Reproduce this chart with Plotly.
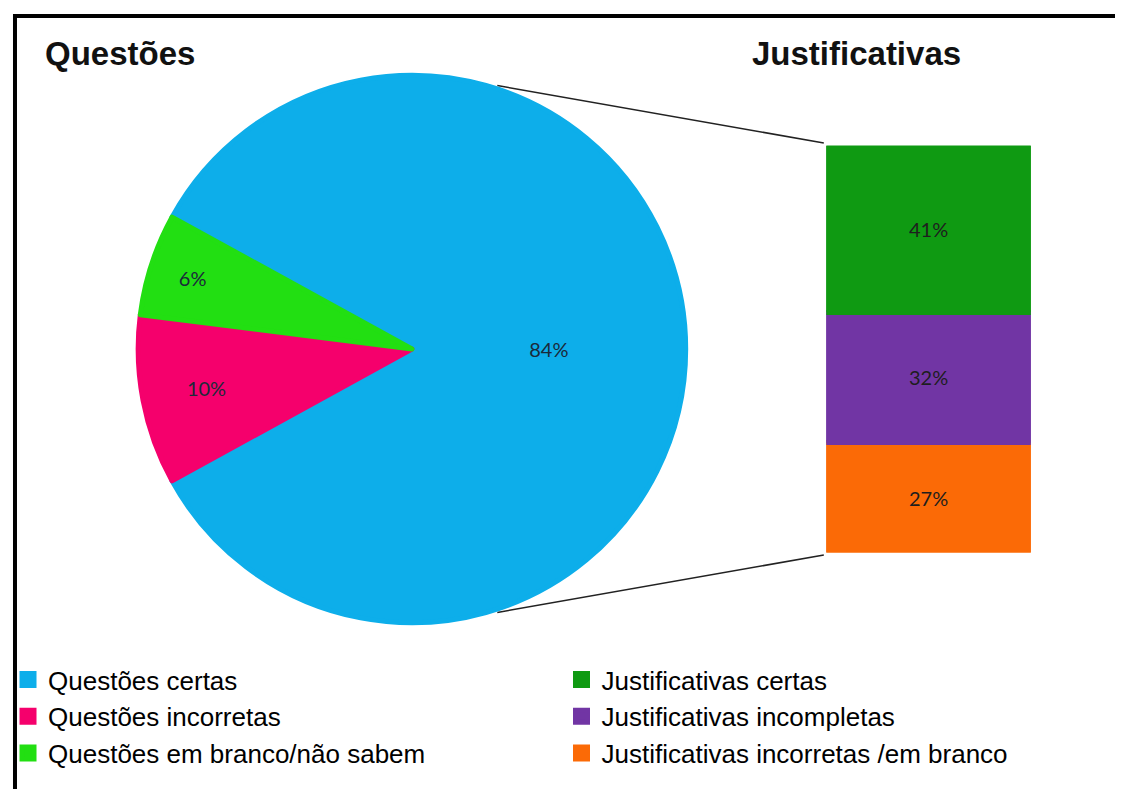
import math
import plotly.graph_objects as go

W, H = 1123, 789
OFF = 8  # page body margin in the browser

# ---- data ----
pie_labels = ["Questões certas", "Questões incorretas", "Questões em branco/não sabem"]
pie_values = [84, 10, 6]
pie_colors = ["#0DAEEA", "#F5006C", "#22DF12"]

bar_labels = ["Justificativas certas", "Justificativas incompletas", "Justificativas incorretas /em branco"]
bar_values = [41, 32, 27]
bar_colors = ["#0F9A12", "#7135A4", "#FB6A06"]

title_left = "Questões"
title_right = "Justificativas"

# ---- geometry (pixels in the screenshot) ----
pie_cx, pie_cy, pie_r = 410, 349, 277
bar_x0, bar_x1, bar_y0, bar_y1 = 823, 1033, 143, 555
LW = 5  # outline width (same colour as fill) -> larger legend swatches

def px(x):
    return (x - OFF) / W

def py(y):
    return 1 - (y - OFF) / H

others = sum(pie_values[1:]) / sum(pie_values) * 360
rotation = 270 + others / 2  # others centred on the left

fig = go.Figure()

r_in = pie_r - LW / 2
fig.add_trace(go.Pie(
    labels=pie_labels,
    values=pie_values,
    sort=False,
    direction="clockwise",
    rotation=rotation - 360,
    marker=dict(colors=pie_colors, line=dict(color=pie_colors, width=LW)),
    texttemplate="%{value}%",
    textposition="inside",
    insidetextorientation="horizontal",
    textfont=dict(family="Lato", size=20, color="#1B2A3A"),
    domain=dict(x=[px(pie_cx - r_in), px(pie_cx + r_in)],
                y=[py(pie_cy + r_in), py(pie_cy - r_in)]),
    legend="legend",
    hoverinfo="label+percent",
))

h = LW / 2
n = len(bar_labels)
for i in reversed(range(n)):
    fig.add_trace(go.Bar(
        x=[0], y=[bar_values[i]],
        name=bar_labels[i],
        marker=dict(color=bar_colors[i], line=dict(width=LW, color=bar_colors[i])),
        width=1,
        text=[f"{bar_values[i]}%"],
        textposition="inside",
        insidetextanchor="middle",
        textangle=0,
        textfont=dict(family="Lato", size=20, color="#1E1E1E"),
        xaxis="x2", yaxis="y2",
        legend="legend2",
        legendrank=i + 1,
    ))

leg_font = dict(family="Liberation Sans, Arial", size=26, color="#000")
fig.update_layout(
    width=W, height=H,
    margin=dict(l=0, r=0, t=0, b=0),
    paper_bgcolor="white",
    plot_bgcolor="rgba(0,0,0,0)",
    barmode="stack",
    xaxis2=dict(domain=[px(bar_x0 + h), px(bar_x1 - h)], range=[-0.5, 0.5], visible=False, fixedrange=True),
    yaxis2=dict(domain=[py(bar_y1 - h), py(bar_y0 + h)], range=[0, sum(bar_values)], visible=False, fixedrange=True),
    legend=dict(x=px(5), y=py(656), xanchor="left", yanchor="top",
                font=leg_font, bgcolor="rgba(0,0,0,0)", traceorder="normal"),
    legend2=dict(x=px(560), y=py(656), xanchor="left", yanchor="top",
                 font=leg_font, bgcolor="rgba(0,0,0,0)", traceorder="normal"),
    showlegend=True,
)

# titles
title_font = dict(family="Liberation Sans, Arial", size=33, color="#111")
fig.add_annotation(text=f"<b>{title_left}</b>", x=px(40), y=py(74), xref="paper", yref="paper",
                   xanchor="left", yanchor="bottom", showarrow=False, font=title_font)
fig.add_annotation(text=f"<b>{title_right}</b>", x=px(749), y=py(74), xref="paper", yref="paper",
                   xanchor="left", yanchor="bottom", showarrow=False, font=title_font)

# connector lines from pie edge to bar corners
ang = math.radians(18)
top_pt = (pie_cx + pie_r * math.sin(ang), pie_cy - pie_r * math.cos(ang))
bot_pt = (pie_cx + pie_r * math.sin(ang), pie_cy + pie_r * math.cos(ang))
fig.add_shape(type="line", xref="paper", yref="paper",
              x0=px(top_pt[0]), y0=py(top_pt[1]), x1=px(bar_x0), y1=py(bar_y0),
              line=dict(color="#222", width=1.5), layer="below")
fig.add_shape(type="line", xref="paper", yref="paper",
              x0=px(bot_pt[0]), y0=py(bot_pt[1]), x1=px(bar_x0), y1=py(bar_y1),
              line=dict(color="#222", width=1.5), layer="below")

# frame (left and top)
fig.add_shape(type="line", xref="paper", yref="paper",
              x0=px(12), y0=py(16), x1=px(W + 20), y1=py(16), line=dict(color="black", width=4))
fig.add_shape(type="line", xref="paper", yref="paper",
              x0=px(12), y0=py(14), x1=px(12), y1=py(H + 20), line=dict(color="black", width=4))

fig.write_html("out.html")
